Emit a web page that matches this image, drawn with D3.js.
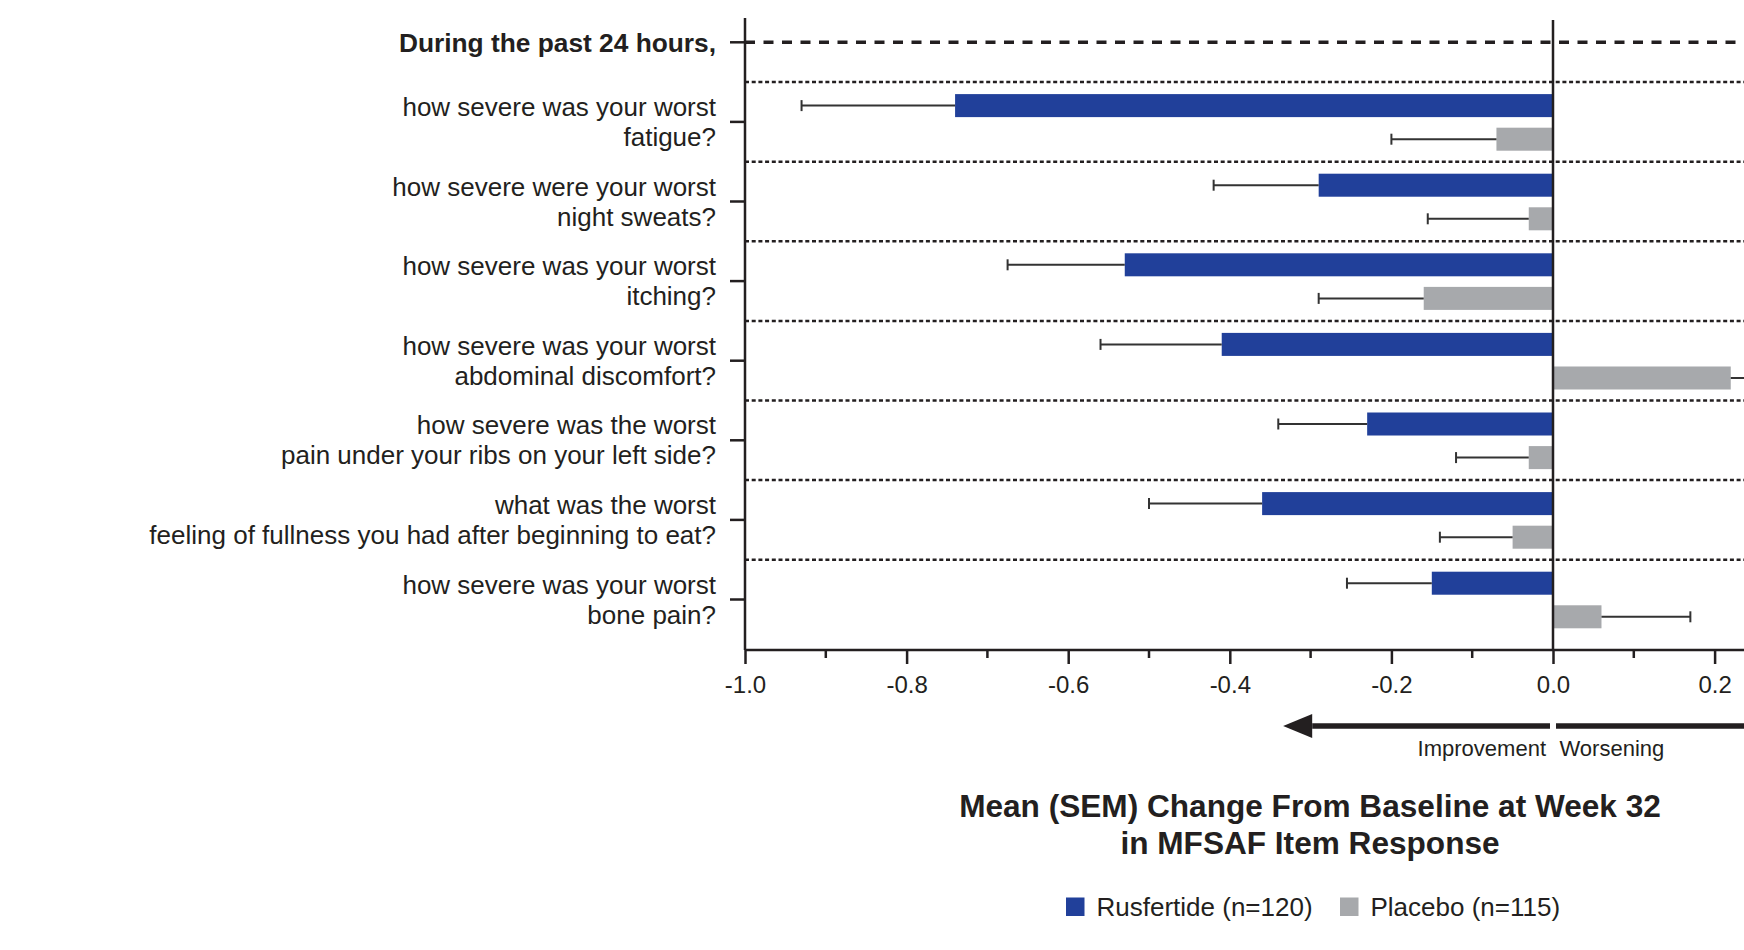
<!DOCTYPE html>
<html>
<head>
<meta charset="utf-8">
<script src="https://cdn.jsdelivr.net/npm/d3@7"></script>
<style>
  body { margin: 0; background: #fff; }
  text { font-family: "Liberation Sans", Arial, sans-serif; fill: #231f20; }
</style>
</head>
<body>
<div id="chart"></div>
<script>
const header = "During the past 24 hours,"
const itemLine1 = [
  "how severe was your worst",
  "how severe were your worst",
  "how severe was your worst",
  "how severe was your worst",
  "how severe was the worst",
  "what was the worst",
  "how severe was your worst"
]
const itemLine2 = [
  "fatigue?",
  "night sweats?",
  "itching?",
  "abdominal discomfort?",
  "pain under your ribs on your left side?",
  "feeling of fullness you had after beginning to eat?",
  "bone pain?"
]
const seriesNames = ["Rusfertide (n=120)", "Placebo (n=115)"]
const rusMean = [-0.74, -0.29, -0.53, -0.41, -0.23, -0.36, -0.15]
const rusSem = [0.19, 0.13, 0.145, 0.15, 0.11, 0.14, 0.105]
const plaMean = [-0.07, -0.03, -0.16, 0.22, -0.03, -0.05, 0.06]
const plaSem = [0.13, 0.125, 0.13, 0.15, 0.09, 0.09, 0.11]
const majorTicks = [-1.0, -0.8, -0.6, -0.4, -0.2, 0.0, 0.2]
const minorTicks = [-0.9, -0.7, -0.5, -0.3, -0.1, 0.1]
const titleLines = ["Mean (SEM) Change From Baseline at Week 32", "in MFSAF Item Response"]

const W = 1744, H = 950
const ink = "#231f20"
const colors = ["#21409a", "#a7a9ac"]

const svg = d3.select("#chart").append("svg")
  .attr("width", W)
  .attr("height", H)

const rows = [header].concat(itemLine2)
const x = d3.scaleLinear().domain([-1, 0.4]).range([745, 745 + 1.4 * 808])
const y = d3.scaleBand().domain(rows).range([2.5, 639.3])
const sub = d3.scaleBand().domain(seriesNames).range([12, 68.6]).paddingInner(0.315)
const bottom = 650

const items = itemLine2.map((k, i) => ({
  key: k,
  vals: [
    { s: seriesNames[0], m: rusMean[i], e: rusSem[i] },
    { s: seriesNames[1], m: plaMean[i], e: plaSem[i] }
  ]
}))

// separators
svg.append("line")
  .attr("x1", x(-1)).attr("x2", W)
  .attr("y1", y(header) + y.bandwidth() / 2).attr("y2", y(header) + y.bandwidth() / 2)
  .attr("stroke", ink).attr("stroke-width", 3.5).attr("stroke-dasharray", "10,8.5")

svg.selectAll(".sep").data(itemLine2).enter().append("line")
  .attr("class", "sep")
  .attr("x1", x(-1)).attr("x2", W)
  .attr("y1", d => y(d)).attr("y2", d => y(d))
  .attr("stroke", ink).attr("stroke-width", 2.5).attr("stroke-dasharray", "4,2.7")

// bars
const g = svg.selectAll(".item").data(items).enter().append("g")
  .attr("class", "item")
  .attr("transform", d => "translate(0," + y(d.key) + ")")

g.selectAll("rect").data(d => d.vals).enter().append("rect")
  .attr("x", d => x(Math.min(0, d.m)))
  .attr("width", d => Math.abs(x(d.m) - x(0)))
  .attr("y", d => sub(d.s))
  .attr("height", sub.bandwidth())
  .attr("fill", (d, i) => colors[i])

// error bars
const err = g.selectAll(".err").data(d => d.vals).enter().append("g").attr("class", "err")
err.append("line")
  .attr("x1", d => x(d.m))
  .attr("x2", d => x(d.m + Math.sign(d.m) * d.e))
  .attr("y1", d => sub(d.s) + sub.bandwidth() / 2)
  .attr("y2", d => sub(d.s) + sub.bandwidth() / 2)
  .attr("stroke", "#333").attr("stroke-width", 2)
err.append("line")
  .attr("x1", d => x(d.m + Math.sign(d.m) * d.e))
  .attr("x2", d => x(d.m + Math.sign(d.m) * d.e))
  .attr("y1", d => sub(d.s) + sub.bandwidth() / 2 - 5.5)
  .attr("y2", d => sub(d.s) + sub.bandwidth() / 2 + 5.5)
  .attr("stroke", "#333").attr("stroke-width", 2)

// zero line
svg.append("line")
  .attr("x1", x(0)).attr("x2", x(0))
  .attr("y1", 20).attr("y2", bottom)
  .attr("stroke", ink).attr("stroke-width", 2.5)

// left axis
const yAxis = svg.append("g")
  .attr("transform", "translate(" + x(-1) + ",0)")
  .call(d3.axisLeft(y).tickSize(15).tickFormat(""))
yAxis.select(".domain").attr("d", "M0,18V" + bottom).attr("stroke", ink).attr("stroke-width", 2.5)
yAxis.selectAll(".tick line").attr("stroke", ink).attr("stroke-width", 2.5)

const labels = svg.append("g")
labels.append("text")
  .attr("x", 716).attr("y", y(header) + y.bandwidth() / 2 + 10)
  .attr("text-anchor", "end")
  .style("font-size", "26.3px").style("font-weight", "bold")
  .text(header)
itemLine2.forEach((k, i) => {
  const cy = y(k) + y.bandwidth() / 2
  const t = labels.append("text").attr("text-anchor", "end").style("font-size", "26px")
  t.append("tspan").attr("x", 716).attr("y", cy - 6).text(itemLine1[i])
  t.append("tspan").attr("x", 716).attr("y", cy + 24).text(k)
})

// bottom axis
const xAxis = svg.append("g")
  .attr("transform", "translate(0," + bottom + ")")
  .call(d3.axisBottom(x).tickValues(majorTicks).tickSize(14).tickFormat(d => d.toFixed(1)))
xAxis.select(".domain").attr("d", "M" + x(-1) + ",0H" + W).attr("stroke", ink).attr("stroke-width", 2.5)
xAxis.selectAll(".tick line").attr("stroke", ink).attr("stroke-width", 2.5)
xAxis.selectAll(".tick text")
  .attr("y", 0).attr("dy", 0).attr("transform", "translate(0,42.7)")
  .style("font-size", "24px").attr("fill", ink)
  .style("font-family", "'Liberation Sans', Arial, sans-serif")

svg.append("g").selectAll("line").data(minorTicks).enter().append("line")
  .attr("x1", d => x(d)).attr("x2", d => x(d))
  .attr("y1", bottom).attr("y2", bottom + 8)
  .attr("stroke", ink).attr("stroke-width", 2.5)

// direction arrow
const ay = 726
svg.append("line")
  .attr("x1", x(0) - 3).attr("x2", x(-0.298))
  .attr("y1", ay).attr("y2", ay)
  .attr("stroke", ink).attr("stroke-width", 5.5)
svg.append("path")
  .attr("d", "M" + x(-0.334) + "," + ay + "L" + x(-0.298) + "," + (ay - 12) + "L" + x(-0.298) + "," + (ay + 12) + "Z")
  .attr("fill", ink)
svg.append("line")
  .attr("x1", x(0) + 3).attr("x2", W)
  .attr("y1", ay).attr("y2", ay)
  .attr("stroke", ink).attr("stroke-width", 5.5)
svg.append("text").attr("x", x(0) - 7).attr("y", 756)
  .attr("text-anchor", "end").style("font-size", "22px").text("Improvement")
svg.append("text").attr("x", x(0) + 6.5).attr("y", 756)
  .style("font-size", "22px").text("Worsening")

// title
svg.append("text").attr("x", 1310).attr("y", 817)
  .attr("text-anchor", "middle").style("font-size", "31.6px").style("font-weight", "bold")
  .text(titleLines[0])
svg.append("text").attr("x", 1310).attr("y", 854)
  .attr("text-anchor", "middle").style("font-size", "31.6px").style("font-weight", "bold")
  .text(titleLines[1])

// legend
const legendX = [1066, 1340]
const legend = svg.selectAll(".legend").data(seriesNames).enter().append("g")
  .attr("class", "legend")
  .attr("transform", (d, i) => "translate(" + legendX[i] + ",897.5)")
legend.append("rect").attr("width", 18.5).attr("height", 18.5).attr("fill", (d, i) => colors[i])
legend.append("text").attr("x", 30.5).attr("y", 18.5).style("font-size", "26px").text(d => d)
</script>
</body>
</html>
